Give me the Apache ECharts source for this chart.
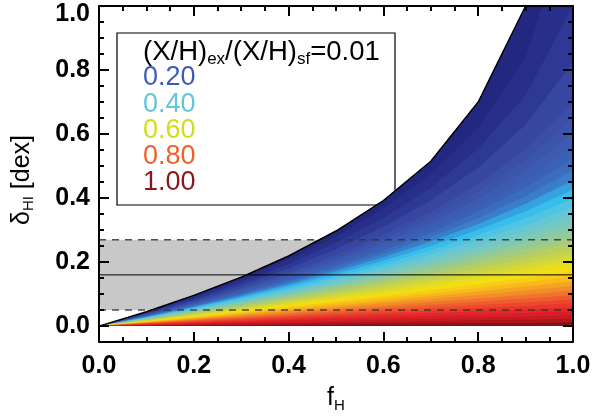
<!DOCTYPE html>
<html><head><meta charset="utf-8">
<script src="https://cdn.jsdelivr.net/npm/echarts@6/dist/echarts.min.js"></script>
<style>html,body{margin:0;padding:0;background:#fff}#c{width:595px;height:418px}</style>
</head><body><div id="c"></div>
<script>
// ---------------- data ----------------
const fH = [0, 0.1, 0.2, 0.3, 0.4, 0.5, 0.6, 0.7, 0.8, 0.9, 1.0];
// delta_HI [dex] along f_H for each ratio (X/H)ex/(X/H)sf
const dR001  = [0, 0.045, 0.096, 0.153, 0.219, 0.297, 0.392, 0.515, 0.700, 1.000, 2.000];
const dR005  = [0, 0.043, 0.092, 0.146, 0.208, 0.280, 0.367, 0.475, 0.620, 0.839, 1.301];
const dR010  = [0, 0.041, 0.086, 0.137, 0.194, 0.260, 0.337, 0.432, 0.553, 0.721, 1.000];
const dR015  = [0, 0.039, 0.081, 0.128, 0.180, 0.240, 0.310, 0.393, 0.495, 0.629, 0.824];
const dR020  = [0, 0.036, 0.076, 0.119, 0.167, 0.222, 0.284, 0.357, 0.444, 0.553, 0.699];
const dR0225 = [0, 0.035, 0.073, 0.115, 0.161, 0.213, 0.272, 0.339, 0.420, 0.519, 0.648];
const dR025  = [0, 0.034, 0.071, 0.111, 0.155, 0.204, 0.260, 0.323, 0.398, 0.488, 0.602];
const dR0275 = [0, 0.033, 0.068, 0.106, 0.149, 0.195, 0.248, 0.307, 0.376, 0.459, 0.561];
const dR030  = [0, 0.032, 0.066, 0.102, 0.143, 0.187, 0.237, 0.292, 0.357, 0.432, 0.523];
const dR0325 = [0, 0.030, 0.063, 0.098, 0.137, 0.179, 0.226, 0.278, 0.337, 0.406, 0.488];
const dR035  = [0, 0.029, 0.060, 0.094, 0.131, 0.171, 0.215, 0.264, 0.319, 0.382, 0.456];
const dR0375 = [0, 0.028, 0.058, 0.090, 0.125, 0.163, 0.204, 0.250, 0.301, 0.359, 0.426];
const dR040  = [0, 0.027, 0.056, 0.086, 0.119, 0.155, 0.194, 0.237, 0.284, 0.337, 0.398];
const dR0425 = [0, 0.026, 0.053, 0.082, 0.113, 0.147, 0.184, 0.224, 0.268, 0.316, 0.372];
const dR045  = [0, 0.025, 0.051, 0.078, 0.108, 0.140, 0.174, 0.211, 0.252, 0.297, 0.347];
const dR0475 = [0, 0.023, 0.048, 0.074, 0.102, 0.132, 0.164, 0.199, 0.237, 0.278, 0.323];
const dR050  = [0, 0.022, 0.046, 0.071, 0.097, 0.125, 0.155, 0.187, 0.222, 0.260, 0.301];
const dR0525 = [0, 0.021, 0.043, 0.067, 0.091, 0.118, 0.146, 0.175, 0.208, 0.242, 0.280];
const dR055  = [0, 0.020, 0.041, 0.063, 0.086, 0.111, 0.137, 0.164, 0.194, 0.225, 0.260];
const dR0575 = [0, 0.019, 0.038, 0.059, 0.081, 0.104, 0.128, 0.153, 0.180, 0.209, 0.240];
const dR060  = [0, 0.018, 0.036, 0.056, 0.076, 0.097, 0.119, 0.143, 0.167, 0.194, 0.222];
const dR0625 = [0, 0.016, 0.034, 0.052, 0.071, 0.090, 0.110, 0.132, 0.155, 0.179, 0.204];
const dR065  = [0, 0.015, 0.032, 0.048, 0.066, 0.084, 0.102, 0.122, 0.143, 0.164, 0.187];
const dR0675 = [0, 0.014, 0.029, 0.044, 0.061, 0.077, 0.094, 0.112, 0.131, 0.150, 0.171];
const dR070  = [0, 0.013, 0.027, 0.041, 0.056, 0.071, 0.086, 0.102, 0.119, 0.137, 0.155];
const dR0725 = [0, 0.012, 0.024, 0.037, 0.051, 0.064, 0.078, 0.093, 0.108, 0.124, 0.140];
const dR075  = [0, 0.011, 0.022, 0.034, 0.046, 0.058, 0.071, 0.084, 0.097, 0.111, 0.125];
const dR0775 = [0, 0.010, 0.020, 0.030, 0.041, 0.052, 0.063, 0.075, 0.086, 0.098, 0.111];
const dR080  = [0, 0.009, 0.018, 0.027, 0.036, 0.046, 0.056, 0.066, 0.076, 0.086, 0.097];
const dR0825 = [0, 0.008, 0.015, 0.023, 0.031, 0.040, 0.048, 0.057, 0.066, 0.074, 0.084];
const dR085  = [0, 0.007, 0.013, 0.020, 0.027, 0.034, 0.041, 0.048, 0.056, 0.063, 0.071];
const dR0875 = [0, 0.005, 0.011, 0.016, 0.022, 0.028, 0.034, 0.040, 0.046, 0.052, 0.058];
const dR090  = [0, 0.004, 0.009, 0.013, 0.018, 0.022, 0.027, 0.032, 0.036, 0.041, 0.046];
const dR0925 = [0, 0.003, 0.006, 0.010, 0.013, 0.016, 0.020, 0.023, 0.027, 0.030, 0.034];
const dR095  = [0, 0.002, 0.004, 0.007, 0.009, 0.011, 0.013, 0.015, 0.018, 0.020, 0.022];
const dR0975 = [0, 0.001, 0.002, 0.003, 0.004, 0.005, 0.007, 0.008, 0.009, 0.010, 0.011];

const ratioLevels = [0.01, 0.05, 0.10, 0.15, 0.20, 0.225, 0.25, 0.275, 0.30, 0.325, 0.35, 0.375, 0.40, 0.425,
  0.45, 0.475, 0.50, 0.525, 0.55, 0.575, 0.60, 0.625, 0.65, 0.675, 0.70, 0.725, 0.75, 0.775, 0.80, 0.825,
  0.85, 0.875, 0.90, 0.925, 0.95, 0.975];
const levelCurves = [dR001, dR005, dR010, dR015, dR020, dR0225, dR025, dR0275, dR030, dR0325, dR035, dR0375,
  dR040, dR0425, dR045, dR0475, dR050, dR0525, dR055, dR0575, dR060, dR0625, dR065, dR0675, dR070, dR0725,
  dR075, dR0775, dR080, dR0825, dR085, dR0875, dR090, dR0925, dR095, dR0975];

const bandLow = 0.05, bandHigh = 0.27, bandMid = 0.16;
const yMin = -0.05, yMax = 1.0;

const yTicks = [0, 0.2, 0.4, 0.6, 0.8, 1.0];
const yMinorTicks = [0.05, 0.1, 0.15, 0.25, 0.3, 0.35, 0.45, 0.5, 0.55, 0.65, 0.7, 0.75, 0.85, 0.9, 0.95];

const legendTitle = ['(X/H)', 'ex', '/(X/H)', 'sf', '=0.01'];
const legendValues = ['0.20', '0.40', '0.60', '0.80', '1.00'];
const yTitle = ['δ', 'HI', ' [dex]'];
const xTitle = ['f', 'H'];

// ---------------- styles ----------------
const FONT = '"Liberation Sans", Arial, Helvetica, sans-serif';
// colour table (ratio -> colour)
const cmapStops = [
  [0.00, '#1f2478'], [0.10, '#2a3290'], [0.20, '#3a4ca6'], [0.25, '#3c58ae'], [0.30, '#3b64b8'],
  [0.34, '#3a80cc'], [0.38, '#30bcee'], [0.42, '#58c6e0'], [0.47, '#78c8c0'], [0.52, '#98ca90'],
  [0.57, '#bcd058'], [0.62, '#dcd830'], [0.66, '#f4e010'], [0.70, '#f8c418'], [0.75, '#f49828'],
  [0.80, '#f06830'], [0.85, '#ec3c2c'], [0.90, '#e0202a'], [0.95, '#c01820'], [1.00, '#701010']
];
function hex2rgb(h) { return [1, 3, 5].map(k => parseInt(h.substr(k, 2), 16)); }
function cmap(r) {
  for (let k = 1; k < cmapStops.length; k++) {
    if (r <= cmapStops[k][0]) {
      const [r0, c0] = cmapStops[k - 1], [r1, c1] = cmapStops[k];
      const t = (r - r0) / (r1 - r0), a = hex2rgb(c0), b = hex2rgb(c1);
      return 'rgb(' + a.map((v, q) => Math.round(v + (b[q] - v) * t)).join(',') + ')';
    }
  }
  return cmapStops[cmapStops.length - 1][1];
}
const legendColors = ['#3d5cb8', '#5ec8d8', '#d2dc1e', '#f2602a', '#8a1818'];

const chart = echarts.init(document.getElementById('c'), null, {renderer: 'canvas'});

const series = [];
// grey band
series.push({
  type: 'line', data: [[0, bandHigh], [1, bandHigh]], symbol: 'none', silent: true,
  lineStyle: {opacity: 0}, areaStyle: {color: '#c8c8c8', opacity: 1, origin: bandLow}, z: 5
});
// colour field built from level curves
levelCurves.forEach((curve, i) => {
  const rTop = ratioLevels[i];
  const rBot = i + 1 < ratioLevels.length ? ratioLevels[i + 1] : 1.0;
  const col = cmap((rTop + rBot) / 2);
  series.push({
    type: 'line', data: fH.map((x, j) => [x, curve[j]]), symbol: 'none', silent: true,
    lineStyle: {opacity: 0, width: 0},
    areaStyle: {color: col, opacity: 1, origin: 0},
    z: 10
  });
});
// band lines
const hline = (v, style, z) => ({
  type: 'line', data: [[0, v], [1, v]], symbol: 'none', silent: true, lineStyle: style, z: z
});
series.push(hline(bandHigh, {color: '#333', width: 1.5, type: [7, 6], opacity: 0.85}, 50));
series.push(hline(bandLow, {color: '#333', width: 1.5, type: [7, 6], opacity: 0.85}, 50));
series.push(hline(bandMid, {color: '#000', width: 1}, 50));
// upper envelope
series.push({
  type: 'line', data: fH.map((x, j) => [x, dR001[j]]), symbol: 'none', silent: true,
  lineStyle: {color: '#000', width: 1.5}, z: 51
});

const axisLineStyle = {color: '#000', width: 2};
const xAxisBase = {
  type: 'value', min: 0, max: 1, interval: 0.2, gridIndex: 0, z: 60,
  axisLine: {show: true, onZero: false, lineStyle: axisLineStyle},
  axisTick: {show: true, inside: true, length: 10, lineStyle: {color: '#000', width: 2}},
  minorTick: {show: true, splitNumber: 4, length: 5, lineStyle: {color: '#000', width: 2}},
  splitLine: {show: false}, minorSplitLine: {show: false}
};
const yMajor = (pos, showLabel) => ({
  type: 'value', min: yMin, max: yMax, position: pos, gridIndex: 0, z: 60,
  axisLine: {show: true, onZero: false, lineStyle: axisLineStyle},
  axisTick: {show: true, inside: true, length: 10, customValues: yTicks, lineStyle: {color: '#000', width: 2}},
  axisLabel: showLabel ? {
    show: true, customValues: yTicks, margin: 9,
    formatter: v => (Math.abs(v - 1) < 1e-9 ? '{t|' : '{n|') + v.toFixed(1) + '}',
    rich: {
      n: {fontFamily: FONT, fontSize: 25, fontWeight: 'bold', color: '#000'},
      t: {fontFamily: FONT, fontSize: 25, fontWeight: 'bold', color: '#000', padding: [16, 0, 0, 0]}
    }
  } : {show: false},
  splitLine: {show: false}
});
const yMinor = (pos) => ({
  type: 'value', min: yMin, max: yMax, position: pos, gridIndex: 0, z: 60,
  axisLine: {show: false, onZero: false},
  axisTick: {show: true, inside: true, length: 5, customValues: yMinorTicks, lineStyle: {color: '#000', width: 2}},
  axisLabel: {show: false}, splitLine: {show: false}
});

const subRich = (size) => ({
  m: {fontFamily: FONT, fontSize: size, fill: '#000', color: '#000', lineHeight: 30},
  s: {fontFamily: FONT, fontSize: Math.round(size * 0.6), fill: '#000', color: '#000', lineHeight: 15, padding: [14, 0, 0, 0]}
});

const option = {
  animation: false,
  backgroundColor: '#fff',
  grid: {left: 99, right: 22, top: 6, bottom: 73, containLabel: false},
  xAxis: [
    Object.assign({}, xAxisBase, {
      position: 'bottom',
      axisLabel: {show: true, margin: 12, fontFamily: FONT, fontSize: 25, fontWeight: 'bold', color: '#000',
        formatter: v => v.toFixed(1)},
      name: '{m|' + xTitle[0] + '}{s|' + xTitle[1] + '}', nameLocation: 'middle', nameGap: 36,
      nameTextStyle: {rich: subRich(25)}
    }),
    Object.assign({}, xAxisBase, {position: 'top', axisLabel: {show: false}})
  ],
  yAxis: [yMajor('left', true), yMinor('left'), yMajor('right', false), yMinor('right')],
  graphic: {
    elements: [
      {type: 'rect', z: 1, silent: true, shape: {x: 117, y: 33, width: 278, height: 172},
        style: {fill: null, stroke: '#000', lineWidth: 1.2}},
      {type: 'text', z: 100, silent: true, x: 22, y: 180, rotation: Math.PI / 2, style: {
        x: 0, y: 0, verticalAlign: 'middle', align: 'center',
        text: '{m|' + yTitle[0] + '}{s|' + yTitle[1] + '}{m|' + yTitle[2] + '}',
        rich: subRich(25)
      }},
      {type: 'text', z: 100, silent: true, style: {
        x: 143, y: 52, verticalAlign: 'middle', align: 'left',
        text: '{m|' + legendTitle[0] + '}{s|' + legendTitle[1] + '}{m|' + legendTitle[2] + '}{s|' + legendTitle[3] + '}{m|' + legendTitle[4] + '}',
        rich: subRich(27.5)
      }}
    ].concat(legendValues.map((t, i) => ({
      type: 'text', z: 100, silent: true,
      style: {x: 143, y: 78 + i * 26.2, verticalAlign: 'middle', align: 'left', text: t,
        fontFamily: FONT, fontSize: 27, fill: legendColors[i]}
    })))
  },
  series: series
};
chart.setOption(option);
</script>
</body></html>
